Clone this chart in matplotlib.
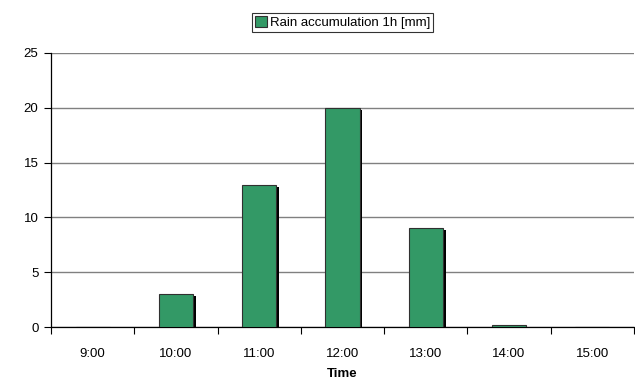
import matplotlib
matplotlib.use("Agg")
import matplotlib.pyplot as plt
import matplotlib.patheffects as pe
import numpy as np

# hourly rain accumulation
hours = ["9:00", "10:00", "11:00", "12:00", "13:00", "14:00", "15:00"]
rain_mm = [0, 3, 13, 20, 9, 0.2, 0]
y_ticks = [0, 5, 10, 15, 20, 25]

plt.rcParams['font.family'] = ['Liberation Sans', 'DejaVu Sans']
FS = 9.5

fig = plt.figure(figsize=(6.35, 3.86), dpi=100)
ax = fig.add_axes([0.0803, 0.1528, 0.918, 0.71])

x = np.arange(len(hours))
bars = ax.bar(x, rain_mm, width=0.41, color='#339966', edgecolor='#303030',
              linewidth=0.8, label='Rain accumulation 1h [mm]', zorder=3)
for b in bars:
    b.set_path_effects([pe.SimplePatchShadow(offset=(2, -1.5), shadow_rgbFace='black', alpha=1),
                        pe.Normal()])

ax.set_xlim(-0.5, len(hours) - 0.5)
ax.set_ylim(0, 25)
ax.set_yticks(y_ticks)
ax.set_yticklabels([str(t) for t in y_ticks], fontsize=FS)
ax.yaxis.grid(True, color='#808080', linewidth=1)
ax.set_axisbelow(True)

# category labels centred, tick marks between categories
ax.set_xticks(np.arange(-0.5, len(hours)), minor=False)
ax.set_xticklabels([])
ax.set_xticks(x, minor=True)
ax.set_xticklabels(hours, minor=True, fontsize=FS)
ax.tick_params(axis='x', which='minor', length=0, pad=15)
ax.tick_params(axis='x', which='major', length=5, width=0.8, direction='out')
ax.tick_params(axis='y', length=5, width=0.8, direction='out', pad=4)

for side in ['top', 'right']:
    ax.spines[side].set_visible(False)
for side in ['left', 'bottom']:
    ax.spines[side].set_linewidth(0.9)
    ax.spines[side].set_color('black')

ax.set_xlabel('Time', fontsize=FS, fontweight='bold', labelpad=6)

leg = ax.legend(loc='center', bbox_to_anchor=(0.5, 1.111), fontsize=FS,
                frameon=True, fancybox=False, edgecolor='black', handlelength=0.9,
                handleheight=0.9, handletextpad=0.2, borderpad=0.25, borderaxespad=0)
leg.get_frame().set_linewidth(0.8)
for h in leg.legend_handles:
    h.set_path_effects([])

fig.savefig('out.png', dpi=100)
